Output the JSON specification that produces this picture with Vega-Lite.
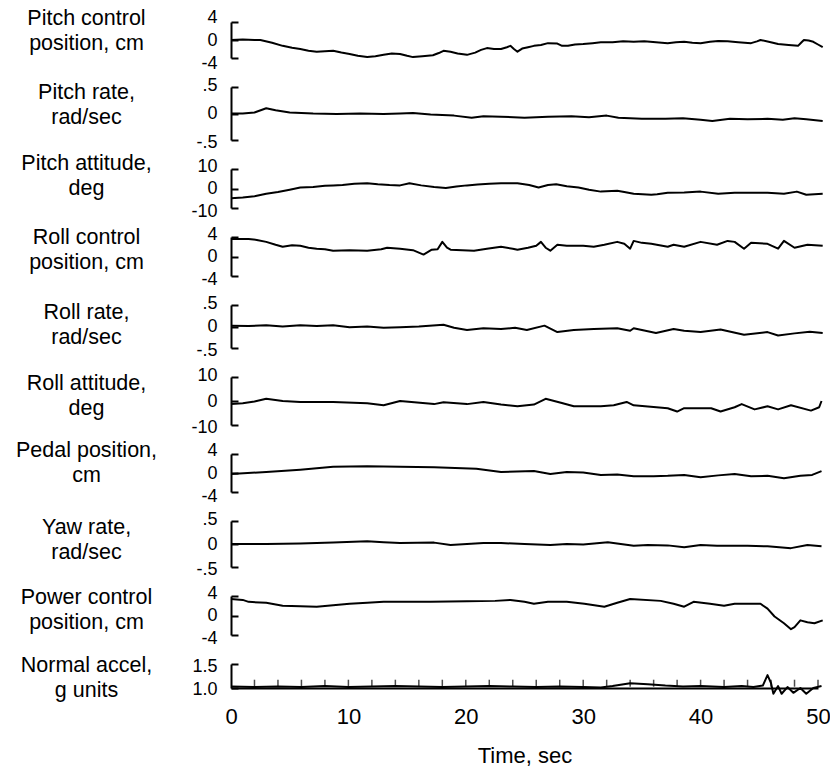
{
  "$schema": "https://vega.github.io/schema/vega-lite/v6.json",
  "padding": {"left": 15, "top": 7, "right": 5, "bottom": 0},
  "spacing": 29,
  "bounds": "flush",
  "config": {
    "view": {"stroke": null},
    "font": "Liberation Sans",
    "line": {"color": "black", "strokeWidth": 2, "strokeJoin": "round"},
    "axis": {"domainColor": "black", "domainWidth": 2, "tickColor": "black", "tickWidth": 2, "labelColor": "black", "titleColor": "black", "labelFont": "Liberation Sans", "titleFont": "Liberation Sans", "titleFontWeight": "normal", "grid": false, "labelOverlap": false},
    "axisY": {"tickSize": -7, "labelPadding": 21, "labelFontSize": 18, "titleFontSize": 21.5, "titleAngle": 0, "titleAlign": "center", "titleBaseline": "middle", "titleLineHeight": 25, "titleX": -145}
  },
  "datasets": {
    "traces": [
      {"s": "pc", "t": 0, "v": 0}, {"s": "pc", "t": 1, "v": 0.1}, {"s": "pc", "t": 2, "v": 0}, {"s": "pc", "t": 2.5, "v": 0}, {"s": "pc", "t": 3.5, "v": -0.6}, {"s": "pc", "t": 4.4, "v": -1.3}, {"s": "pc", "t": 5.2, "v": -1.7}, {"s": "pc", "t": 5.9, "v": -2.0}, {"s": "pc", "t": 6.6, "v": -2.4}, {"s": "pc", "t": 7.3, "v": -2.6}, {"s": "pc", "t": 8, "v": -2.5}, {"s": "pc", "t": 8.7, "v": -2.4}, {"s": "pc", "t": 9.4, "v": -2.8}, {"s": "pc", "t": 10.1, "v": -3.1}, {"s": "pc", "t": 10.8, "v": -3.5}, {"s": "pc", "t": 11.6, "v": -3.8}, {"s": "pc", "t": 12.3, "v": -3.6}, {"s": "pc", "t": 13, "v": -3.3}, {"s": "pc", "t": 13.7, "v": -3.0}, {"s": "pc", "t": 14.4, "v": -3.1}, {"s": "pc", "t": 15, "v": -3.5}, {"s": "pc", "t": 15.5, "v": -3.8}, {"s": "pc", "t": 16.3, "v": -3.6}, {"s": "pc", "t": 17.2, "v": -3.4}, {"s": "pc", "t": 17.7, "v": -2.9}, {"s": "pc", "t": 18.1, "v": -2.4}, {"s": "pc", "t": 18.7, "v": -2.6}, {"s": "pc", "t": 19.3, "v": -3.0}, {"s": "pc", "t": 20.1, "v": -3.3}, {"s": "pc", "t": 20.8, "v": -2.8}, {"s": "pc", "t": 21.3, "v": -2.2}, {"s": "pc", "t": 21.8, "v": -1.8}, {"s": "pc", "t": 22.4, "v": -2.0}, {"s": "pc", "t": 23, "v": -2.0}, {"s": "pc", "t": 23.5, "v": -1.6}, {"s": "pc", "t": 23.8, "v": -1.3}, {"s": "pc", "t": 24.1, "v": -2.0}, {"s": "pc", "t": 24.4, "v": -2.6}, {"s": "pc", "t": 24.8, "v": -1.9}, {"s": "pc", "t": 25.3, "v": -1.6}, {"s": "pc", "t": 25.8, "v": -1.3}, {"s": "pc", "t": 26.4, "v": -1.1}, {"s": "pc", "t": 27, "v": -0.7}, {"s": "pc", "t": 27.8, "v": -0.8}, {"s": "pc", "t": 28.2, "v": -1.3}, {"s": "pc", "t": 28.7, "v": -1.3}, {"s": "pc", "t": 29.3, "v": -1.0}, {"s": "pc", "t": 30, "v": -0.9}, {"s": "pc", "t": 30.8, "v": -0.7}, {"s": "pc", "t": 31.5, "v": -0.5}, {"s": "pc", "t": 32.5, "v": -0.5}, {"s": "pc", "t": 33.4, "v": -0.3}, {"s": "pc", "t": 34.3, "v": -0.4}, {"s": "pc", "t": 35.2, "v": -0.3}, {"s": "pc", "t": 36.2, "v": -0.5}, {"s": "pc", "t": 37.2, "v": -0.7}, {"s": "pc", "t": 37.9, "v": -0.5}, {"s": "pc", "t": 38.6, "v": -0.4}, {"s": "pc", "t": 39.3, "v": -0.6}, {"s": "pc", "t": 40, "v": -0.7}, {"s": "pc", "t": 40.8, "v": -0.4}, {"s": "pc", "t": 41.5, "v": -0.2}, {"s": "pc", "t": 42.3, "v": -0.3}, {"s": "pc", "t": 43.2, "v": -0.5}, {"s": "pc", "t": 44.3, "v": -0.7}, {"s": "pc", "t": 44.8, "v": -0.3}, {"s": "pc", "t": 45.1, "v": 0}, {"s": "pc", "t": 45.8, "v": -0.4}, {"s": "pc", "t": 46.6, "v": -0.9}, {"s": "pc", "t": 47.5, "v": -1.1}, {"s": "pc", "t": 48.3, "v": -1.3}, {"s": "pc", "t": 48.6, "v": -0.5}, {"s": "pc", "t": 48.8, "v": 0}, {"s": "pc", "t": 49.2, "v": -0.1}, {"s": "pc", "t": 49.6, "v": -0.4}, {"s": "pc", "t": 50, "v": -1.0}, {"s": "pc", "t": 50.4, "v": -1.6},

      {"s": "pr", "t": 0, "v": 0}, {"s": "pr", "t": 1, "v": 0}, {"s": "pr", "t": 2, "v": 0.02}, {"s": "pr", "t": 3, "v": 0.1}, {"s": "pr", "t": 3.8, "v": 0.06}, {"s": "pr", "t": 5, "v": 0.02}, {"s": "pr", "t": 7, "v": 0}, {"s": "pr", "t": 9, "v": -0.01}, {"s": "pr", "t": 11, "v": 0}, {"s": "pr", "t": 13, "v": -0.01}, {"s": "pr", "t": 14.4, "v": 0}, {"s": "pr", "t": 15.5, "v": 0.01}, {"s": "pr", "t": 17, "v": -0.02}, {"s": "pr", "t": 19, "v": -0.04}, {"s": "pr", "t": 20.5, "v": -0.08}, {"s": "pr", "t": 21.5, "v": -0.05}, {"s": "pr", "t": 23, "v": -0.06}, {"s": "pr", "t": 25, "v": -0.08}, {"s": "pr", "t": 27, "v": -0.06}, {"s": "pr", "t": 29, "v": -0.05}, {"s": "pr", "t": 30.5, "v": -0.07}, {"s": "pr", "t": 32, "v": -0.04}, {"s": "pr", "t": 33, "v": -0.08}, {"s": "pr", "t": 35, "v": -0.1}, {"s": "pr", "t": 37, "v": -0.1}, {"s": "pr", "t": 38.5, "v": -0.09}, {"s": "pr", "t": 40, "v": -0.12}, {"s": "pr", "t": 41, "v": -0.14}, {"s": "pr", "t": 42.5, "v": -0.1}, {"s": "pr", "t": 44, "v": -0.11}, {"s": "pr", "t": 45.7, "v": -0.1}, {"s": "pr", "t": 47, "v": -0.12}, {"s": "pr", "t": 48, "v": -0.09}, {"s": "pr", "t": 49, "v": -0.11}, {"s": "pr", "t": 50.4, "v": -0.14},

      {"s": "pa", "t": 0, "v": -5}, {"s": "pa", "t": 1, "v": -4.6}, {"s": "pa", "t": 2, "v": -4}, {"s": "pa", "t": 3, "v": -2.7}, {"s": "pa", "t": 4, "v": -1.8}, {"s": "pa", "t": 5, "v": -0.6}, {"s": "pa", "t": 5.9, "v": 0.5}, {"s": "pa", "t": 7, "v": 0.8}, {"s": "pa", "t": 8, "v": 1.4}, {"s": "pa", "t": 8.7, "v": 1.6}, {"s": "pa", "t": 9.5, "v": 1.8}, {"s": "pa", "t": 10.5, "v": 2.4}, {"s": "pa", "t": 11.6, "v": 2.7}, {"s": "pa", "t": 12.5, "v": 2.2}, {"s": "pa", "t": 13.5, "v": 1.8}, {"s": "pa", "t": 14.4, "v": 1.6}, {"s": "pa", "t": 15.2, "v": 2.7}, {"s": "pa", "t": 16.2, "v": 1.6}, {"s": "pa", "t": 17.3, "v": 0.8}, {"s": "pa", "t": 18.3, "v": 0.3}, {"s": "pa", "t": 19.2, "v": 1.0}, {"s": "pa", "t": 20.1, "v": 1.6}, {"s": "pa", "t": 21, "v": 2.0}, {"s": "pa", "t": 22, "v": 2.4}, {"s": "pa", "t": 23, "v": 2.7}, {"s": "pa", "t": 24.4, "v": 2.7}, {"s": "pa", "t": 25.4, "v": 1.8}, {"s": "pa", "t": 26.2, "v": 0.5}, {"s": "pa", "t": 27, "v": 1.8}, {"s": "pa", "t": 27.7, "v": 2.2}, {"s": "pa", "t": 28.6, "v": 1.2}, {"s": "pa", "t": 29.6, "v": 0.5}, {"s": "pa", "t": 30.5, "v": -0.6}, {"s": "pa", "t": 31.5, "v": -1.6}, {"s": "pa", "t": 32.9, "v": -1.2}, {"s": "pa", "t": 33.5, "v": -1.8}, {"s": "pa", "t": 34.3, "v": -2.7}, {"s": "pa", "t": 35.8, "v": -3.2}, {"s": "pa", "t": 36.3, "v": -3.0}, {"s": "pa", "t": 37.2, "v": -2.2}, {"s": "pa", "t": 38.6, "v": -2.0}, {"s": "pa", "t": 40, "v": -1.6}, {"s": "pa", "t": 41.5, "v": -2.7}, {"s": "pa", "t": 42.9, "v": -2.2}, {"s": "pa", "t": 44.5, "v": -2.2}, {"s": "pa", "t": 45.7, "v": -2.2}, {"s": "pa", "t": 47.1, "v": -2.7}, {"s": "pa", "t": 48.2, "v": -1.6}, {"s": "pa", "t": 49, "v": -3.2}, {"s": "pa", "t": 50.4, "v": -2.7},

      {"s": "rc", "t": 0, "v": 3.6}, {"s": "rc", "t": 1.5, "v": 3.6}, {"s": "rc", "t": 2.2, "v": 3.4}, {"s": "rc", "t": 3, "v": 3.0}, {"s": "rc", "t": 3.8, "v": 2.4}, {"s": "rc", "t": 4.4, "v": 2.0}, {"s": "rc", "t": 5.2, "v": 2.3}, {"s": "rc", "t": 5.9, "v": 2.2}, {"s": "rc", "t": 6.6, "v": 1.8}, {"s": "rc", "t": 7.3, "v": 1.6}, {"s": "rc", "t": 8, "v": 1.5}, {"s": "rc", "t": 8.7, "v": 1.2}, {"s": "rc", "t": 10.1, "v": 1.3}, {"s": "rc", "t": 11.6, "v": 1.2}, {"s": "rc", "t": 12.8, "v": 1.5}, {"s": "rc", "t": 13.3, "v": 1.8}, {"s": "rc", "t": 14.4, "v": 1.6}, {"s": "rc", "t": 15.5, "v": 1.3}, {"s": "rc", "t": 16.4, "v": 0.4}, {"s": "rc", "t": 17.1, "v": 1.4}, {"s": "rc", "t": 17.6, "v": 1.5}, {"s": "rc", "t": 18.0, "v": 3.0}, {"s": "rc", "t": 18.4, "v": 1.8}, {"s": "rc", "t": 18.7, "v": 1.4}, {"s": "rc", "t": 19.7, "v": 1.3}, {"s": "rc", "t": 20.7, "v": 1.2}, {"s": "rc", "t": 21.8, "v": 1.6}, {"s": "rc", "t": 23.0, "v": 2.0}, {"s": "rc", "t": 24.0, "v": 1.6}, {"s": "rc", "t": 24.4, "v": 1.4}, {"s": "rc", "t": 25.3, "v": 1.8}, {"s": "rc", "t": 26.0, "v": 2.2}, {"s": "rc", "t": 26.4, "v": 3.0}, {"s": "rc", "t": 26.8, "v": 1.8}, {"s": "rc", "t": 27.2, "v": 1.2}, {"s": "rc", "t": 27.8, "v": 2.4}, {"s": "rc", "t": 28.6, "v": 2.2}, {"s": "rc", "t": 30.0, "v": 2.2}, {"s": "rc", "t": 30.9, "v": 2.0}, {"s": "rc", "t": 31.8, "v": 2.4}, {"s": "rc", "t": 32.9, "v": 3.0}, {"s": "rc", "t": 33.5, "v": 2.6}, {"s": "rc", "t": 34.0, "v": 1.6}, {"s": "rc", "t": 34.3, "v": 3.2}, {"s": "rc", "t": 35.0, "v": 2.8}, {"s": "rc", "t": 35.8, "v": 2.6}, {"s": "rc", "t": 37.2, "v": 2.0}, {"s": "rc", "t": 37.7, "v": 2.4}, {"s": "rc", "t": 38.6, "v": 2.0}, {"s": "rc", "t": 40.0, "v": 3.0}, {"s": "rc", "t": 41.4, "v": 2.4}, {"s": "rc", "t": 42.3, "v": 3.2}, {"s": "rc", "t": 42.9, "v": 3.0}, {"s": "rc", "t": 43.7, "v": 1.6}, {"s": "rc", "t": 44.3, "v": 2.8}, {"s": "rc", "t": 45.7, "v": 2.6}, {"s": "rc", "t": 46.6, "v": 1.6}, {"s": "rc", "t": 47.1, "v": 3.2}, {"s": "rc", "t": 48.0, "v": 1.8}, {"s": "rc", "t": 49.1, "v": 2.4}, {"s": "rc", "t": 50.4, "v": 2.2},

      {"s": "rr", "t": 0, "v": 0.02}, {"s": "rr", "t": 1.5, "v": 0.01}, {"s": "rr", "t": 3, "v": 0.03}, {"s": "rr", "t": 4.4, "v": 0}, {"s": "rr", "t": 5.9, "v": 0.03}, {"s": "rr", "t": 7.3, "v": 0.01}, {"s": "rr", "t": 8.7, "v": 0.03}, {"s": "rr", "t": 10.1, "v": -0.02}, {"s": "rr", "t": 11.6, "v": 0}, {"s": "rr", "t": 13, "v": -0.03}, {"s": "rr", "t": 14.4, "v": -0.02}, {"s": "rr", "t": 16, "v": 0}, {"s": "rr", "t": 18.1, "v": 0.04}, {"s": "rr", "t": 19, "v": -0.03}, {"s": "rr", "t": 20.1, "v": -0.08}, {"s": "rr", "t": 21.5, "v": -0.04}, {"s": "rr", "t": 23, "v": -0.06}, {"s": "rr", "t": 24.2, "v": -0.03}, {"s": "rr", "t": 25.2, "v": -0.08}, {"s": "rr", "t": 26.7, "v": 0.02}, {"s": "rr", "t": 27.8, "v": -0.13}, {"s": "rr", "t": 29.2, "v": -0.08}, {"s": "rr", "t": 30.9, "v": -0.06}, {"s": "rr", "t": 32.9, "v": -0.04}, {"s": "rr", "t": 34.0, "v": -0.1}, {"s": "rr", "t": 34.3, "v": -0.04}, {"s": "rr", "t": 36.2, "v": -0.15}, {"s": "rr", "t": 37.7, "v": -0.06}, {"s": "rr", "t": 38.6, "v": -0.1}, {"s": "rr", "t": 40, "v": -0.13}, {"s": "rr", "t": 41.7, "v": -0.07}, {"s": "rr", "t": 43.7, "v": -0.19}, {"s": "rr", "t": 45.7, "v": -0.13}, {"s": "rr", "t": 46.6, "v": -0.21}, {"s": "rr", "t": 48, "v": -0.16}, {"s": "rr", "t": 49.3, "v": -0.12}, {"s": "rr", "t": 50.4, "v": -0.15},

      {"s": "ra", "t": 0, "v": -1.3}, {"s": "ra", "t": 1, "v": -0.9}, {"s": "ra", "t": 2, "v": -0.2}, {"s": "ra", "t": 3, "v": 0.9}, {"s": "ra", "t": 4.4, "v": 0}, {"s": "ra", "t": 5.9, "v": -0.4}, {"s": "ra", "t": 8.7, "v": -0.4}, {"s": "ra", "t": 11.6, "v": -0.9}, {"s": "ra", "t": 13, "v": -1.8}, {"s": "ra", "t": 14.4, "v": 0}, {"s": "ra", "t": 17.3, "v": -1.3}, {"s": "ra", "t": 18.1, "v": -0.5}, {"s": "ra", "t": 20.1, "v": -1.3}, {"s": "ra", "t": 21.5, "v": -0.4}, {"s": "ra", "t": 23, "v": -1.5}, {"s": "ra", "t": 24.4, "v": -2.2}, {"s": "ra", "t": 25.8, "v": -1.5}, {"s": "ra", "t": 26.8, "v": 0.9}, {"s": "ra", "t": 28.1, "v": -0.7}, {"s": "ra", "t": 29.2, "v": -2.2}, {"s": "ra", "t": 31.5, "v": -2.2}, {"s": "ra", "t": 32.6, "v": -1.8}, {"s": "ra", "t": 33.7, "v": -0.4}, {"s": "ra", "t": 34.3, "v": -1.8}, {"s": "ra", "t": 37.2, "v": -3.0}, {"s": "ra", "t": 38, "v": -4.4}, {"s": "ra", "t": 38.6, "v": -3.0}, {"s": "ra", "t": 40.9, "v": -3.0}, {"s": "ra", "t": 41.7, "v": -4.4}, {"s": "ra", "t": 42.9, "v": -2.6}, {"s": "ra", "t": 43.5, "v": -1.3}, {"s": "ra", "t": 44.6, "v": -3.5}, {"s": "ra", "t": 45.7, "v": -2.2}, {"s": "ra", "t": 46.6, "v": -3.5}, {"s": "ra", "t": 47.7, "v": -1.8}, {"s": "ra", "t": 49.4, "v": -4.0}, {"s": "ra", "t": 50.1, "v": -2.6}, {"s": "ra", "t": 50.3, "v": 0},

      {"s": "pe", "t": 0, "v": -0.2}, {"s": "pe", "t": 3, "v": 0.2}, {"s": "pe", "t": 5.9, "v": 0.7}, {"s": "pe", "t": 8.7, "v": 1.3}, {"s": "pe", "t": 11.6, "v": 1.4}, {"s": "pe", "t": 14.4, "v": 1.3}, {"s": "pe", "t": 17.3, "v": 1.2}, {"s": "pe", "t": 20.9, "v": 0.9}, {"s": "pe", "t": 23, "v": 0.2}, {"s": "pe", "t": 25.8, "v": 0.4}, {"s": "pe", "t": 27.2, "v": -0.2}, {"s": "pe", "t": 28.6, "v": 0.2}, {"s": "pe", "t": 30, "v": 0.1}, {"s": "pe", "t": 31.5, "v": -0.4}, {"s": "pe", "t": 32.9, "v": -0.3}, {"s": "pe", "t": 34.3, "v": -0.7}, {"s": "pe", "t": 36, "v": -0.7}, {"s": "pe", "t": 37.2, "v": -0.6}, {"s": "pe", "t": 38.6, "v": -0.4}, {"s": "pe", "t": 40, "v": -0.9}, {"s": "pe", "t": 41.5, "v": -0.5}, {"s": "pe", "t": 42.9, "v": -0.2}, {"s": "pe", "t": 44.3, "v": -0.7}, {"s": "pe", "t": 45.7, "v": -0.6}, {"s": "pe", "t": 47.1, "v": -1.1}, {"s": "pe", "t": 48.5, "v": -0.6}, {"s": "pe", "t": 49.5, "v": -0.4}, {"s": "pe", "t": 50.3, "v": 0.4},

      {"s": "yr", "t": 0, "v": 0}, {"s": "yr", "t": 3, "v": 0}, {"s": "yr", "t": 5.9, "v": 0.01}, {"s": "yr", "t": 8.7, "v": 0.03}, {"s": "yr", "t": 11.6, "v": 0.06}, {"s": "yr", "t": 13, "v": 0.04}, {"s": "yr", "t": 14.4, "v": 0.02}, {"s": "yr", "t": 17.3, "v": 0.03}, {"s": "yr", "t": 18.7, "v": -0.02}, {"s": "yr", "t": 21.5, "v": 0.02}, {"s": "yr", "t": 23, "v": 0.02}, {"s": "yr", "t": 25, "v": 0}, {"s": "yr", "t": 27.2, "v": -0.02}, {"s": "yr", "t": 28.6, "v": 0}, {"s": "yr", "t": 30, "v": -0.01}, {"s": "yr", "t": 32.1, "v": 0.04}, {"s": "yr", "t": 34.3, "v": -0.04}, {"s": "yr", "t": 35.5, "v": -0.02}, {"s": "yr", "t": 37.2, "v": -0.03}, {"s": "yr", "t": 38.6, "v": -0.07}, {"s": "yr", "t": 40, "v": -0.02}, {"s": "yr", "t": 41.4, "v": -0.04}, {"s": "yr", "t": 44, "v": -0.04}, {"s": "yr", "t": 45.7, "v": -0.05}, {"s": "yr", "t": 47.7, "v": -0.09}, {"s": "yr", "t": 49.1, "v": -0.02}, {"s": "yr", "t": 50.3, "v": -0.05},

      {"s": "pw", "t": 0, "v": 3.4}, {"s": "pw", "t": 1, "v": 3.2}, {"s": "pw", "t": 1.5, "v": 2.8}, {"s": "pw", "t": 3, "v": 2.6}, {"s": "pw", "t": 4.4, "v": 2.0}, {"s": "pw", "t": 5.9, "v": 1.9}, {"s": "pw", "t": 7.3, "v": 1.8}, {"s": "pw", "t": 8.7, "v": 2.1}, {"s": "pw", "t": 10.1, "v": 2.4}, {"s": "pw", "t": 11.6, "v": 2.6}, {"s": "pw", "t": 13, "v": 2.8}, {"s": "pw", "t": 14.4, "v": 2.8}, {"s": "pw", "t": 17, "v": 2.8}, {"s": "pw", "t": 20.1, "v": 2.9}, {"s": "pw", "t": 22.5, "v": 3.0}, {"s": "pw", "t": 23.8, "v": 3.2}, {"s": "pw", "t": 25, "v": 2.8}, {"s": "pw", "t": 25.8, "v": 2.4}, {"s": "pw", "t": 27, "v": 2.8}, {"s": "pw", "t": 28.6, "v": 2.8}, {"s": "pw", "t": 30.1, "v": 2.4}, {"s": "pw", "t": 31.8, "v": 1.8}, {"s": "pw", "t": 32.9, "v": 2.6}, {"s": "pw", "t": 34, "v": 3.4}, {"s": "pw", "t": 36.6, "v": 3.0}, {"s": "pw", "t": 37.7, "v": 2.4}, {"s": "pw", "t": 38.6, "v": 1.8}, {"s": "pw", "t": 39.4, "v": 2.8}, {"s": "pw", "t": 40.8, "v": 2.4}, {"s": "pw", "t": 42, "v": 2.0}, {"s": "pw", "t": 42.9, "v": 2.4}, {"s": "pw", "t": 45.1, "v": 2.4}, {"s": "pw", "t": 45.7, "v": 1.4}, {"s": "pw", "t": 46.3, "v": -0.2}, {"s": "pw", "t": 47.1, "v": -1.6}, {"s": "pw", "t": 47.7, "v": -2.8}, {"s": "pw", "t": 48, "v": -2.4}, {"s": "pw", "t": 48.5, "v": -1.0}, {"s": "pw", "t": 49.1, "v": -1.4}, {"s": "pw", "t": 49.7, "v": -1.6}, {"s": "pw", "t": 50.4, "v": -1.0},

      {"s": "na", "t": 0, "v": 1.03}, {"s": "na", "t": 2, "v": 1.02}, {"s": "na", "t": 4, "v": 1.03}, {"s": "na", "t": 6, "v": 1.02}, {"s": "na", "t": 8, "v": 1.04}, {"s": "na", "t": 10, "v": 1.02}, {"s": "na", "t": 12, "v": 1.03}, {"s": "na", "t": 14, "v": 1.04}, {"s": "na", "t": 16, "v": 1.03}, {"s": "na", "t": 18, "v": 1.02}, {"s": "na", "t": 20, "v": 1.03}, {"s": "na", "t": 22, "v": 1.04}, {"s": "na", "t": 24, "v": 1.03}, {"s": "na", "t": 26, "v": 1.02}, {"s": "na", "t": 28, "v": 1.03}, {"s": "na", "t": 30, "v": 1.02}, {"s": "na", "t": 31.5, "v": 1.01}, {"s": "na", "t": 32.5, "v": 1.04}, {"s": "na", "t": 34, "v": 1.1}, {"s": "na", "t": 35.5, "v": 1.08}, {"s": "na", "t": 37, "v": 1.05}, {"s": "na", "t": 38.5, "v": 1.03}, {"s": "na", "t": 40, "v": 1.04}, {"s": "na", "t": 42, "v": 1.02}, {"s": "na", "t": 43.5, "v": 1.04}, {"s": "na", "t": 44.5, "v": 1.02}, {"s": "na", "t": 45.3, "v": 1.05}, {"s": "na", "t": 45.7, "v": 1.27}, {"s": "na", "t": 46, "v": 1.1}, {"s": "na", "t": 46.2, "v": 0.88}, {"s": "na", "t": 46.6, "v": 1.04}, {"s": "na", "t": 46.9, "v": 0.88}, {"s": "na", "t": 47.4, "v": 1.02}, {"s": "na", "t": 47.9, "v": 0.9}, {"s": "na", "t": 48.5, "v": 1.0}, {"s": "na", "t": 49, "v": 0.88}, {"s": "na", "t": 49.6, "v": 1.0}, {"s": "na", "t": 50.3, "v": 1.04}
    ],
    "marks": [
      {"t": 2}, {"t": 4}, {"t": 6}, {"t": 8}, {"t": 10}, {"t": 12}, {"t": 14}, {"t": 16}, {"t": 18}, {"t": 20}, {"t": 22}, {"t": 24}, {"t": 26}, {"t": 28}, {"t": 30}, {"t": 32}, {"t": 34}, {"t": 36}, {"t": 38}, {"t": 40}, {"t": 42}, {"t": 44}, {"t": 46}, {"t": 48}, {"t": 50}
    ]
  },
  "vconcat": [
    {
      "width": 587, "height": 36,
      "data": {"name": "traces"},
      "transform": [{"filter": "datum.s == 'pc'"}],
      "mark": "line",
      "encoding": {
        "x": {"field": "t", "type": "quantitative", "scale": {"domain": [0, 50]}, "axis": null},
        "y": {"field": "v", "type": "quantitative", "scale": {"domain": [-4, 4], "nice": false, "zero": false},
          "axis": {"values": [-4, 0, 4], "labelExpr": "datum.value > 0 ? '4' : datum.value < 0 ? '-4' : '0'", "title": ["Pitch control", "position, cm"], "titleY": -4,
            "labelOffset": {"condition": [{"test": "datum.value > 0", "value": -5}, {"test": "datum.value < 0", "value": 5}], "value": 0}}}
      }
    },
    {
      "width": 587, "height": 53,
      "data": {"name": "traces"},
      "transform": [{"filter": "datum.s == 'pr'"}],
      "mark": "line",
      "encoding": {
        "x": {"field": "t", "type": "quantitative", "scale": {"domain": [0, 50]}, "axis": null},
        "y": {"field": "v", "type": "quantitative", "scale": {"domain": [-0.5, 0.5], "nice": false, "zero": false},
          "axis": {"values": [-0.5, 0, 0.5], "labelExpr": "datum.value > 0 ? '.5' : datum.value < 0 ? '-.5' : '0'", "title": ["Pitch rate,", "rad/sec"], "titleY": 5,
            "labelOffset": {"condition": [{"test": "datum.value > 0", "value": -2}, {"test": "datum.value < 0", "value": 2}], "value": 0}}}
      }
    },
    {
      "width": 587, "height": 39,
      "data": {"name": "traces"},
      "transform": [{"filter": "datum.s == 'pa'"}],
      "mark": "line",
      "encoding": {
        "x": {"field": "t", "type": "quantitative", "scale": {"domain": [0, 50]}, "axis": null},
        "y": {"field": "v", "type": "quantitative", "scale": {"domain": [-10, 10], "nice": false, "zero": false},
          "axis": {"values": [-10, 0, 10], "labelExpr": "datum.value > 0 ? '10' : datum.value < 0 ? '-10' : '0'", "title": ["Pitch attitude,", "deg"], "titleY": -6,
            "labelOffset": {"condition": [{"test": "datum.value > 0", "value": -3}, {"test": "datum.value < 0", "value": 3}], "value": 0}}}
      }
    },
    {
      "width": 587, "height": 39,
      "data": {"name": "traces"},
      "transform": [{"filter": "datum.s == 'rc'"}],
      "mark": "line",
      "encoding": {
        "x": {"field": "t", "type": "quantitative", "scale": {"domain": [0, 50]}, "axis": null},
        "y": {"field": "v", "type": "quantitative", "scale": {"domain": [-4, 4], "nice": false, "zero": false},
          "axis": {"values": [-4, 0, 4], "labelExpr": "datum.value > 0 ? '4' : datum.value < 0 ? '-4' : '0'", "title": ["Roll control", "position, cm"], "titleY": 0,
            "labelOffset": {"condition": [{"test": "datum.value > 0", "value": -3}, {"test": "datum.value < 0", "value": 3}], "value": 0}}}
      }
    },
    {
      "width": 587, "height": 43,
      "data": {"name": "traces"},
      "transform": [{"filter": "datum.s == 'rr'"}],
      "mark": "line",
      "encoding": {
        "x": {"field": "t", "type": "quantitative", "scale": {"domain": [0, 50]}, "axis": null},
        "y": {"field": "v", "type": "quantitative", "scale": {"domain": [-0.5, 0.5], "nice": false, "zero": false},
          "axis": {"values": [-0.5, 0, 0.5], "labelExpr": "datum.value > 0 ? '.5' : datum.value < 0 ? '-.5' : '0'", "title": ["Roll rate,", "rad/sec"], "titleY": 7,
            "labelOffset": {"condition": [{"test": "datum.value > 0", "value": -2}, {"test": "datum.value < 0", "value": 2}], "value": 0}}}
      }
    },
    {
      "width": 587, "height": 48,
      "data": {"name": "traces"},
      "transform": [{"filter": "datum.s == 'ra'"}],
      "mark": "line",
      "encoding": {
        "x": {"field": "t", "type": "quantitative", "scale": {"domain": [0, 50]}, "axis": null},
        "y": {"field": "v", "type": "quantitative", "scale": {"domain": [-10, 10], "nice": false, "zero": false},
          "axis": {"values": [-10, 0, 10], "labelExpr": "datum.value > 0 ? '10' : datum.value < 0 ? '-10' : '0'", "title": ["Roll attitude,", "deg"], "titleY": 6,
            "labelOffset": {"condition": [{"test": "datum.value > 0", "value": -2}, {"test": "datum.value < 0", "value": 2}], "value": 0}}}
      }
    },
    {
      "width": 587, "height": 38,
      "data": {"name": "traces"},
      "transform": [{"filter": "datum.s == 'pe'"}],
      "mark": "line",
      "encoding": {
        "x": {"field": "t", "type": "quantitative", "scale": {"domain": [0, 50]}, "axis": null},
        "y": {"field": "v", "type": "quantitative", "scale": {"domain": [-4, 4], "nice": false, "zero": false},
          "axis": {"values": [-4, 0, 4], "labelExpr": "datum.value > 0 ? '4' : datum.value < 0 ? '-4' : '0'", "title": ["Pedal position,", "cm"], "titleY": -4,
            "labelOffset": {"condition": [{"test": "datum.value > 0", "value": -4}, {"test": "datum.value < 0", "value": 4}], "value": 0}}}
      }
    },
    {
      "width": 587, "height": 46,
      "data": {"name": "traces"},
      "transform": [{"filter": "datum.s == 'yr'"}],
      "mark": "line",
      "encoding": {
        "x": {"field": "t", "type": "quantitative", "scale": {"domain": [0, 50]}, "axis": null},
        "y": {"field": "v", "type": "quantitative", "scale": {"domain": [-0.5, 0.5], "nice": false, "zero": false},
          "axis": {"values": [-0.5, 0, 0.5], "labelExpr": "datum.value > 0 ? '.5' : datum.value < 0 ? '-.5' : '0'", "title": ["Yaw rate,", "rad/sec"], "titleY": 6,
            "labelOffset": {"condition": [{"test": "datum.value > 0", "value": -2}, {"test": "datum.value < 0", "value": 2}], "value": 0}}}
      }
    },
    {
      "width": 587, "height": 39,
      "data": {"name": "traces"},
      "transform": [{"filter": "datum.s == 'pw'"}],
      "mark": "line",
      "encoding": {
        "x": {"field": "t", "type": "quantitative", "scale": {"domain": [0, 50]}, "axis": null},
        "y": {"field": "v", "type": "quantitative", "scale": {"domain": [-4, 4], "nice": false, "zero": false},
          "axis": {"values": [-4, 0, 4], "labelExpr": "datum.value > 0 ? '4' : datum.value < 0 ? '-4' : '0'", "title": ["Power control", "position, cm"], "titleY": 1,
            "labelOffset": {"condition": [{"test": "datum.value > 0", "value": -3}, {"test": "datum.value < 0", "value": 3}], "value": 0}}}
      }
    },
    {
      "width": 587, "height": 24,
      "layer": [
        {
          "data": {"name": "traces"},
          "transform": [{"filter": "datum.s == 'na'"}],
          "mark": "line",
          "encoding": {
            "x": {"field": "t", "type": "quantitative", "scale": {"domain": [0, 50]},
              "axis": {"values": [0, 10, 20, 30, 40, 50], "ticks": false, "labelFlush": false, "labelPadding": 18, "labelFontSize": 22, "title": "Time, sec", "titleFontSize": 22, "titlePadding": 18}},
            "y": {"field": "v", "type": "quantitative", "scale": {"domain": [1.0, 1.5], "nice": false, "zero": false},
              "axis": {"values": [1.0, 1.5], "labelExpr": "datum.value > 1.2 ? '1.5' : '1.0'", "title": ["Normal accel,", "g units"], "titleY": 1,
                "labelOffset": {"condition": {"test": "datum.value > 1.2", "value": 2}, "value": 1}}}
          }
        },
        {
          "data": {"name": "marks"},
          "mark": {"type": "tick", "orient": "vertical", "color": "black", "size": 7, "thickness": 1.5},
          "encoding": {
            "x": {"field": "t", "type": "quantitative"},
            "y": {"datum": 1.1}
          }
        }
      ]
    }
  ]
}
